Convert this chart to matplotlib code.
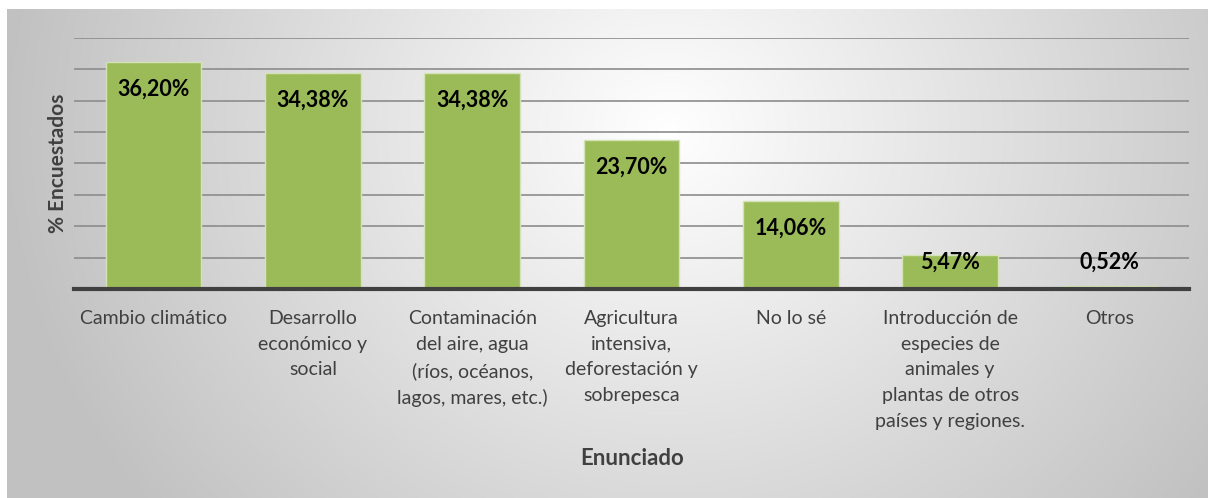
import matplotlib.pyplot as plt
import numpy as np

categorias = [
    "Cambio climático",
    "Desarrollo\neconómico y\nsocial",
    "Contaminación\ndel aire, agua\n(ríos, océanos,\nlagos, mares, etc.)",
    "Agricultura\nintensiva,\ndeforestación y\nsobrepesca",
    "No lo sé",
    "Introducción de\nespecies de\nanimales y\nplantas de otros\npaíses y regiones.",
    "Otros",
]
valores = [36.20, 34.38, 34.38, 23.70, 14.06, 5.47, 0.52]
etiquetas = ["36,20%", "34,38%", "34,38%", "23,70%", "14,06%", "5,47%", "0,52%"]

plt.rcParams['font.family'] = ['Lato', 'DejaVu Sans']

W, H = 1208, 498
fig = plt.figure(figsize=(W / 100, H / 100), dpi=100)

# fondo con degradado radial (estilo Excel)
bg = fig.add_axes([7 / W, 0, 1 - 7 / W, 1 - 9 / H])
ny, nx = 300, 700
yy, xx = np.mgrid[0:ny, 0:nx]
cx, cy = 0.55 * nx, 0.25 * ny
r = np.sqrt(((xx - cx) / nx) ** 2 + ((yy - cy) / ny * 0.45) ** 2)
r = np.clip(r / 0.55, 0, 1)
c0, c1 = 1.0, 0.76
img = c0 + (c1 - c0) * r
bg.imshow(np.dstack([img, img, img]), aspect='auto', extent=[0, 1, 0, 1])
bg.set_axis_off()

ax = fig.add_axes([74 / W, 1 - 289 / H, (1189 - 74) / W, (289 - 38) / H])
ax.patch.set_alpha(0)

x = np.arange(len(categorias))
ax.bar(x, valores, width=0.6, color='#9bbb59', edgecolor='#d4e3b5', linewidth=1, zorder=3)

ax.set_ylim(0, 40)
ax.set_xlim(-0.5, len(categorias) - 0.5)
ax.set_yticks(np.arange(5, 41, 5))
ax.yaxis.grid(True, color='#8c8c8c', linewidth=1.2, zorder=0)
ax.tick_params(axis='y', length=0, labelleft=False)
ax.tick_params(axis='x', length=0, pad=15)
ax.set_xticks(x)
ax.set_xticklabels(categorias, fontsize=14, color='#404040', linespacing=1.62, va='top')

for s in ['top', 'right', 'left']:
    ax.spines[s].set_visible(False)
ax.spines['bottom'].set_color('#404040')
ax.spines['bottom'].set_linewidth(3)
ax.spines['bottom'].set_zorder(4)

for xi, v, t in zip(x, valores, etiquetas):
    ax.text(xi, max(v - 4.3, 4.2), t, ha='center', va='center',
            fontsize=15.5, fontweight='bold', color='black', zorder=5)

ax.set_ylabel("% Encuestados", fontsize=15, fontweight='bold', color='#404040')
ax.yaxis.set_label_coords((68 - 74) / 1115, 0.5)
fig.text(632 / W, 1 - 458 / H, "Enunciado", ha='center', va='center',
         fontsize=16, fontweight='bold', color='#404040')

fig.savefig("out.png", dpi=100)
